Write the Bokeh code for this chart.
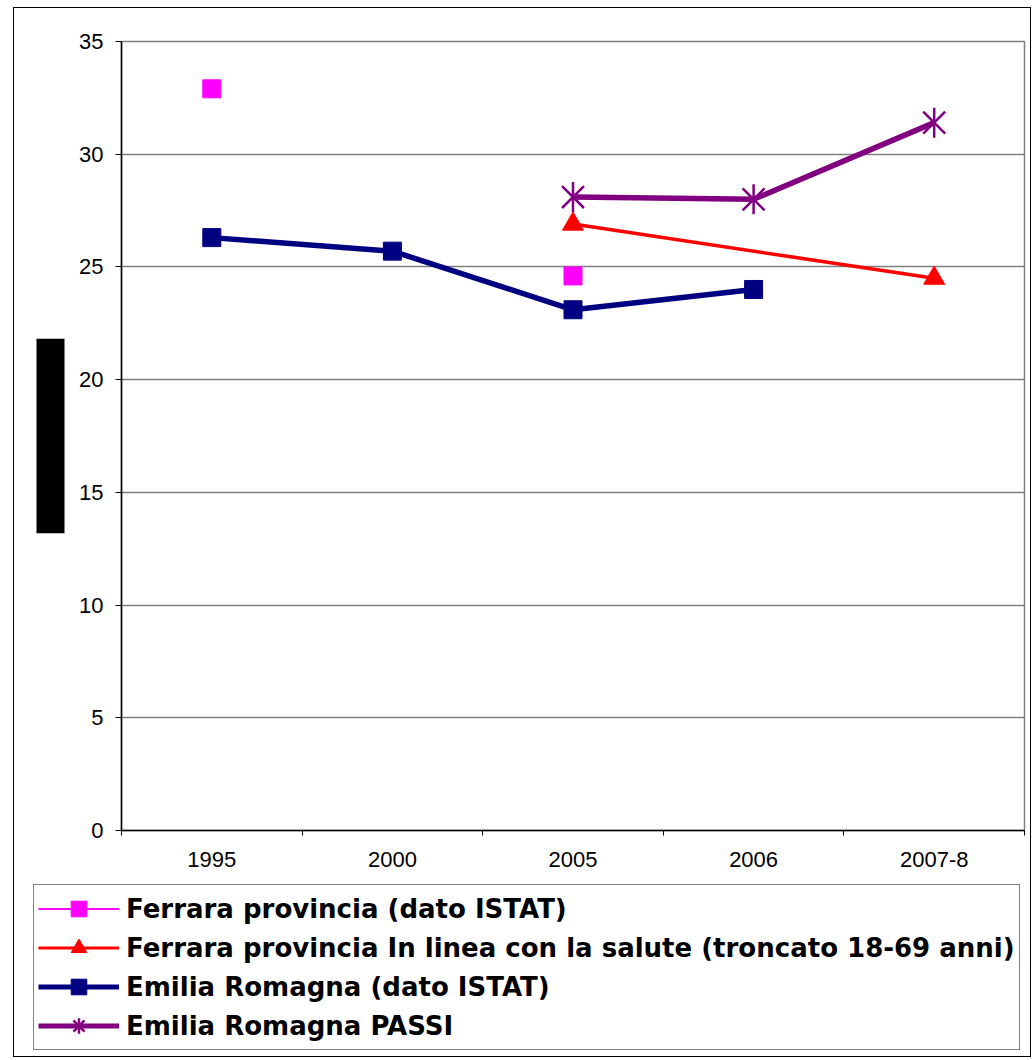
import math
from bokeh.plotting import figure
from bokeh.layouts import column
from bokeh.models import (Range1d, LinearAxis, FixedTicker, Grid, Legend, LegendItem,
                          Title, ColumnDataSource)
from bokeh.embed import file_html
from bokeh.resources import INLINE

nan = float("nan")

categories = ["1995", "2000", "2005", "2006", "2007-8"]
ferrara_istat = [32.9, nan, 24.6, nan, nan]
ferrara_linea = [nan, nan, 26.9, nan, 24.5]
er_istat = [26.3, 25.7, 23.1, 24.0, nan]
er_passi = [nan, nan, 28.1, 28.0, 31.4]
y_ticks = [0, 5, 10, 15, 20, 25, 30, 35]

labels = [
    "Ferrara provincia (dato ISTAT)",
    "Ferrara provincia In linea con la salute (troncato 18-69 anni)",
    "Emilia Romagna (dato ISTAT)",
    "Emilia Romagna PASSI",
]

MAGENTA, RED, NAVY, PURPLE = "#FF00FF", "#FF0000", "#000080", "#800080"

xs = list(range(len(categories)))
bounds = [i - 0.5 for i in range(len(categories) + 1)]

p = figure(x_range=Range1d(-0.5, len(categories) - 0.5), y_range=Range1d(0, 35),
           frame_width=903, frame_height=789,
           min_border_left=107, min_border_top=33, min_border_right=6, min_border_bottom=54,
           x_axis_location=None, y_axis_location=None,
           output_backend="svg", toolbar_location=None)
p.outline_line_color = "#808080"
p.outline_line_width = 1.5
p.background_fill_color = "white"
p.border_fill_color = "white"
p.center = [r for r in p.center if not isinstance(r, Grid)]

grid = Grid(dimension=1, ticker=FixedTicker(ticks=y_ticks),
            grid_line_color="#808080", grid_line_width=1.5)
p.add_layout(grid)

yaxis = LinearAxis(ticker=FixedTicker(ticks=y_ticks),
                   major_tick_out=6, major_tick_in=0, minor_tick_out=0, minor_tick_in=0,
                   axis_line_color="black", axis_line_width=1.5,
                   major_tick_line_color="black", major_tick_line_width=1,
                   major_label_text_font="Liberation Sans", major_label_text_font_size="22px",
                   major_label_text_color="black", major_label_standoff=12)
p.add_layout(yaxis, "left")

# redacted axis-title block (black box on the left)
block = Title(text="\u00a0" * 28, text_font="Liberation Sans", text_font_size="25px",
              align="center", background_fill_color="black", background_fill_alpha=1,
              standoff=24, offset=0)
p.add_layout(block, "left")

xaxis = LinearAxis(ticker=FixedTicker(ticks=xs, minor_ticks=bounds),
                   major_label_overrides={i: c for i, c in enumerate(categories)},
                   major_tick_out=0, major_tick_in=0,
                   minor_tick_out=5, minor_tick_in=0,
                   axis_line_color="black", axis_line_width=1.5,
                   minor_tick_line_color="black", minor_tick_line_width=1,
                   major_label_text_font="Liberation Sans", major_label_text_font_size="22px",
                   major_label_text_color="black", major_label_standoff=16)
p.add_layout(xaxis, "below")

def pts(vals):
    return ColumnDataSource(dict(x=[x for x, v in zip(xs, vals) if not math.isnan(v)],
                                 y=[v for v in vals if not math.isnan(v)]))

# Ferrara ISTAT: isolated points
p.scatter("x", "y", source=pts(ferrara_istat), marker="square", size=18,
          fill_color=MAGENTA, line_color=MAGENTA)

s2 = pts(ferrara_linea)
p.line("x", "y", source=s2, line_color=RED, line_width=3.5)
p.scatter("x", "y", source=s2, marker="triangle", size=21,
          fill_color=RED, line_color=RED)

s3 = pts(er_istat)
p.line("x", "y", source=s3, line_color=NAVY, line_width=5.5)
p.scatter("x", "y", source=s3, marker="square", size=18,
          fill_color=NAVY, line_color=NAVY)

s4 = pts(er_passi)
p.line("x", "y", source=s4, line_color=PURPLE, line_width=5.5)
p.scatter("x", "y", source=s4, marker="x", size=31, line_color=PURPLE, line_width=2.5)
p.scatter("x", "y", source=s4, marker="dash", angle=math.pi / 2, size=30,
          line_color=PURPLE, line_width=2.5)

# legend panel (separate figure below the chart); proxy renderers hold no visible data
q = figure(width=1016, height=172, x_range=Range1d(0, 1), y_range=Range1d(0, 1),
           min_border=0, x_axis_location=None, y_axis_location=None,
           output_backend="svg", toolbar_location=None)
q.outline_line_color = None
q.background_fill_color = "white"
q.border_fill_color = "white"
q.center = [r for r in q.center if not isinstance(r, Grid)]

e = dict(x=[nan], y=[nan])
l1 = [q.line(**e, line_color=MAGENTA, line_width=2),
      q.scatter(**e, marker="square", size=18, fill_color=MAGENTA, line_color=MAGENTA)]
l2 = [q.line(**e, line_color=RED, line_width=3),
      q.scatter(**e, marker="triangle", size=21, fill_color=RED, line_color=RED)]
l3 = [q.line(**e, line_color=NAVY, line_width=5),
      q.scatter(**e, marker="square", size=18, fill_color=NAVY, line_color=NAVY)]
l4 = [q.line(**e, line_color=PURPLE, line_width=5),
      q.scatter(**e, marker="asterisk", size=31, line_color=PURPLE, line_width=2.5)]

legend = Legend(items=[LegendItem(label=lab, renderers=rs)
                       for lab, rs in zip(labels, [l1, l2, l3, l4])],
                location=(19, 6), orientation="vertical",
                border_line_color="black", border_line_width=1,
                background_fill_color="white", background_fill_alpha=1,
                label_text_font="DejaVu Sans", label_text_font_style="bold",
                label_text_font_size="26px", label_text_color="black",
                glyph_width=81, glyph_height=39, label_height=39, label_standoff=7,
                spacing=0, padding=4, margin=0)
q.add_layout(legend, "center")

layout = column(p, column(q), spacing=0,
                styles={"border": "1px solid black", "margin": "7px 0px 0px 13px"})

open("out.html", "w").write(file_html(layout, INLINE))
